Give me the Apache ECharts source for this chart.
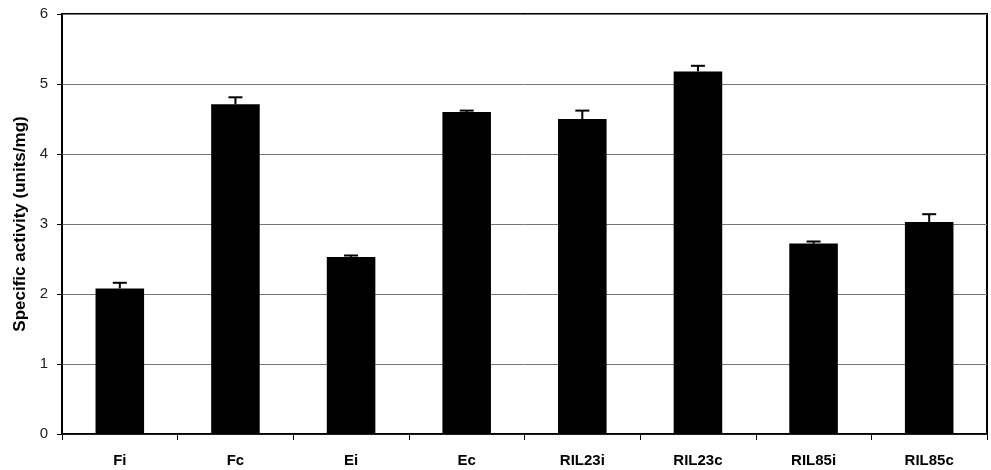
<!DOCTYPE html>
<html>
<head>
<meta charset="utf-8">
<script src="https://cdn.jsdelivr.net/npm/echarts@6/dist/echarts.min.js"></script>
<style>html,body{margin:0;padding:0;background:#fff}#c{width:991px;height:470px}</style>
</head>
<body>
<div id="c"></div>
<script>
var categories = ['Fi', 'Fc', 'Ei', 'Ec', 'RIL23i', 'RIL23c', 'RIL85i', 'RIL85c'];
var values = [2.08, 4.71, 2.53, 4.60, 4.50, 5.18, 2.72, 3.03];
var errors = [0.08, 0.10, 0.02, 0.02, 0.12, 0.08, 0.03, 0.11];
var yTicks = [0, 1, 2, 3, 4, 5, 6];

var chart = echarts.init(document.getElementById('c'), null, {renderer: 'canvas'});
var errData = categories.map(function (c, i) { return [i, values[i], values[i] + errors[i]]; });

chart.setOption({
  animation: false,
  backgroundColor: '#fff',
  grid: {left: 62, right: 4, top: 14, bottom: 36, show: true, borderColor: '#000', borderWidth: 2, backgroundColor: 'transparent'},
  xAxis: {
    type: 'category',
    data: categories,
    axisLine: {lineStyle: {color: '#000', width: 1.5}},
    axisTick: {show: true, alignWithLabel: false, length: 6, lineStyle: {color: '#000'}},
    axisLabel: {color: '#000', fontWeight: 'bold', fontSize: 15, fontFamily: 'Liberation Sans, Arial, sans-serif', margin: 19}
  },
  yAxis: {
    type: 'value',
    min: yTicks[0],
    max: yTicks[yTicks.length - 1],
    interval: 1,
    name: 'Specific activity (units/mg)',
    nameLocation: 'middle',
    nameGap: 31,
    nameTextStyle: {color: '#000', fontWeight: 'bold', fontSize: 17, fontFamily: 'Liberation Sans, Arial, sans-serif'},
    axisLine: {show: true, lineStyle: {color: '#000', width: 1.5}},
    axisTick: {show: true, inside: false, length: 5, lineStyle: {color: '#000'}},
    axisLabel: {color: '#222', fontSize: 15, fontFamily: 'Liberation Sans, Arial, sans-serif', margin: 14},
    splitLine: {show: true, lineStyle: {color: '#777', width: 1}}
  },
  series: [
    {
      type: 'bar',
      data: values,
      barWidth: '42%',
      itemStyle: {color: '#000'},
      z: 2
    },
    {
      type: 'custom',
      data: errData,
      z: 3,
      renderItem: function (params, api) {
        var x = api.value(0);
        var top = api.coord([x, api.value(1)]);
        var hi = api.coord([x, api.value(2)]);
        var hw = 7;
        return {
          type: 'group',
          children: [
            {type: 'line', shape: {x1: top[0], y1: top[1], x2: hi[0], y2: hi[1]}, style: {stroke: '#000', lineWidth: 2}},
            {type: 'line', shape: {x1: hi[0] - hw, y1: hi[1], x2: hi[0] + hw, y2: hi[1]}, style: {stroke: '#000', lineWidth: 2}}
          ]
        };
      }
    }
  ]
});
</script>
</body>
</html>
